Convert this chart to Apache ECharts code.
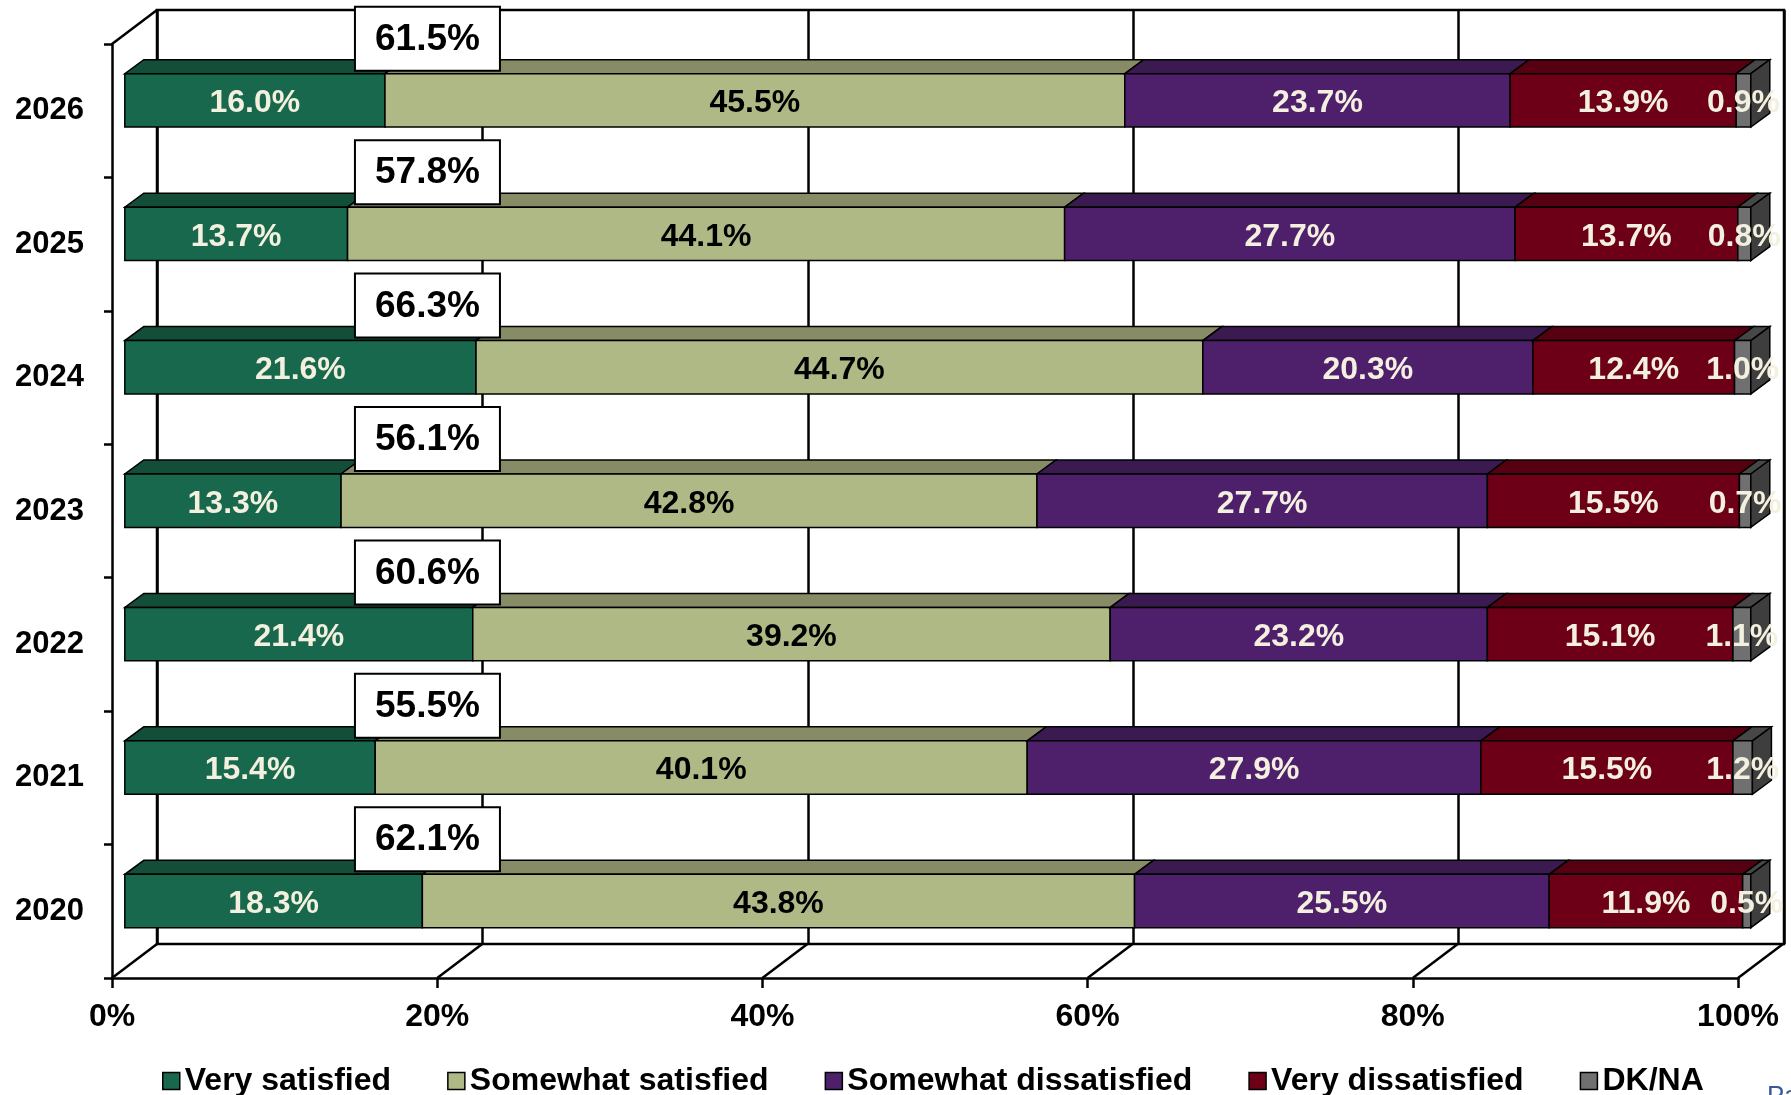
<!DOCTYPE html>
<html><head><meta charset="utf-8">
<script src="https://cdn.jsdelivr.net/npm/echarts@6/dist/echarts.min.js"></script>
<style>html,body{margin:0;padding:0;background:#fff;overflow:hidden}#c{width:1791px;height:1095px}</style>
</head><body><div id="c"></div>
<script>
// ---- data ----
const years = ['2020', '2021', '2022', '2023', '2024', '2025', '2026'];
const verySatisfied        = [18.3, 15.4, 21.4, 13.3, 21.6, 13.7, 16.0];
const somewhatSatisfied    = [43.8, 40.1, 39.2, 42.8, 44.7, 44.1, 45.5];
const somewhatDissatisfied = [25.5, 27.9, 23.2, 27.7, 20.3, 27.7, 23.7];
const veryDissatisfied     = [11.9, 15.5, 15.1, 15.5, 12.4, 13.7, 13.9];
const dkNa                 = [0.5, 1.2, 1.1, 0.7, 1.0, 0.8, 0.9];
const satisfiedTotals      = [62.1, 55.5, 60.6, 56.1, 66.3, 57.8, 61.5];
const xTicks = [0, 20, 40, 60, 80, 100];
const seriesNames = ['Very satisfied', 'Somewhat satisfied', 'Somewhat dissatisfied', 'Very dissatisfied', 'DK/NA'];
const seriesValues = [verySatisfied, somewhatSatisfied, somewhatDissatisfied, veryDissatisfied, dkNa];

// ---- styling ----
const FONT = '"Liberation Sans", Arial, sans-serif';
const LIGHT = '#F3F0DF';
const faceStyles = [
  { front: '#17684C', top: '#134E38', side: '#0F3E2C', text: LIGHT },
  { front: '#AFB986', top: '#878B66', side: '#70744F', text: '#000000' },
  { front: '#4E206B', top: '#3B1A51', side: '#2E1440', text: LIGHT },
  { front: '#6D0016', top: '#570011', side: '#45000D', text: LIGHT },
  { front: '#707070', top: '#474747', side: '#3E3E3E', text: LIGHT }
];
const WALL = [45, -34];        // depth of the 3D box in pixels
const BAR_OFF = [12.8, -10.3]; // bar front face offset from front plane
const BAR_DEPTH = [19, -14];   // bar depth
const BAR_H = 0.40;            // bar front face height as share of band
const TOTAL_AT = 19.4;         // x (value units) of the total label boxes

function barRenderer(k) {
  return function (params, api) {
    const start = api.value(0), end = api.value(1), cat = api.value(2);
    const a = api.coord([start, cat]), b = api.coord([end, cat]);
    const band = api.size([0, 1])[1];
    const h = band * BAR_H;
    const x0 = a[0] + BAR_OFF[0], x1 = b[0] + BAR_OFF[0];
    const yc = a[1] + BAR_OFF[1];
    const yt = yc - h / 2, yb = yc + h / 2;
    const dx = BAR_DEPTH[0], dy = BAR_DEPTH[1];
    const st = faceStyles[k];
    const children = [
      { type: 'polygon', shape: { points: [[x0, yt], [x1, yt], [x1 + dx, yt + dy], [x0 + dx, yt + dy]] },
        style: { fill: st.top, stroke: '#000', lineWidth: 1.5 } },
      { type: 'rect', shape: { x: x0, y: yt, width: x1 - x0, height: h },
        style: { fill: st.front, stroke: '#000', lineWidth: 1.5 } }
    ];
    if (k === seriesValues.length - 1) {
      children.push({ type: 'polygon', shape: { points: [[x1, yt], [x1 + dx, yt + dy], [x1 + dx, yb + dy], [x1, yb]] },
        style: { fill: st.side, stroke: '#000', lineWidth: 1.5 } });
    }
    children.push({ type: 'text', x: (x0 + x1) / 2, y: yc + 3, z2: 10,
      style: { text: api.value(3).toFixed(1) + '%', fill: st.text, font: 'bold 32px ' + FONT,
               align: 'center', verticalAlign: 'middle' } });
    return { type: 'group', children: children };
  };
}

const barSeries = seriesValues.map(function (vals, k) {
  const data = vals.map(function (v, i) {
    let s = 0;
    for (let j = 0; j < k; j++) s += seriesValues[j][i];
    return [s, s + v, i, v];
  });
  return {
    type: 'custom', name: seriesNames[k], xAxisIndex: 0, yAxisIndex: 0,
    itemStyle: { color: faceStyles[k].front },
    encode: { x: [0, 1], y: 2 },
    renderItem: barRenderer(k), data: data, z: 5
  };
});

const floorSeries = {
  type: 'custom', xAxisIndex: 0, yAxisIndex: 0, z: 3, silent: true,
  encode: { x: 0, y: 1 },
  data: xTicks.map(function (v) { return [v, 0]; }),
  renderItem: function (params, api) {
    const v = api.value(0);
    const p = api.coord([v, 0]);
    const band = api.size([0, 1])[1];
    const yb = p[1] + band / 2;
    const ls = { stroke: '#000', lineWidth: 2.5 };
    const children = [{ type: 'line', shape: { x1: p[0], y1: yb, x2: p[0] + WALL[0], y2: yb + WALL[1] }, style: ls }];
    if (v === xTicks[0]) {
      const top = api.coord([v, years.length - 1])[1] - band / 2;
      children.push({ type: 'line', shape: { x1: p[0], y1: top, x2: p[0] + WALL[0], y2: top + WALL[1] }, style: ls });
    }
    return { type: 'group', children: children };
  }
};

const totalSeries = {
  type: 'custom', xAxisIndex: 0, yAxisIndex: 0, z: 20, silent: true,
  encode: { x: 0, y: 1 },
  data: satisfiedTotals.map(function (t, i) { return [TOTAL_AT, i, t]; }),
  renderItem: function (params, api) {
    const p = api.coord([api.value(0), api.value(1)]);
    const w = 145, h = 64, cy = p[1] - 72;
    return { type: 'group', children: [
      { type: 'rect', shape: { x: p[0] - w / 2, y: cy - h / 2, width: w, height: h },
        style: { fill: '#fff', stroke: '#000', lineWidth: 2 } },
      { type: 'text', x: p[0], y: cy + 1, z2: 10,
        style: { text: api.value(2).toFixed(1) + '%', fill: '#000', font: 'bold 37px ' + FONT,
                 align: 'center', verticalAlign: 'middle' } }
    ] };
  }
};

const chart = echarts.init(document.getElementById('c'), null, { renderer: 'canvas' });
chart.setOption({
  backgroundColor: '#fff',
  animation: false,
  textStyle: { fontFamily: FONT },
  grid: [
    { left: 112, top: 44, width: 1626, height: 934 },
    { left: 157, top: 10, width: 1627, height: 934, show: true, borderColor: '#000', borderWidth: 2.5, backgroundColor: 'transparent' }
  ],
  xAxis: [
    { type: 'value', gridIndex: 0, min: 0, max: 100, interval: 20,
      axisLine: { show: true, lineStyle: { color: '#000', width: 2.5 } },
      axisTick: { show: true, length: 10, lineStyle: { color: '#000', width: 2.5 } },
      axisLabel: { formatter: '{value}%', color: '#000', fontSize: 32, fontWeight: 'bold', fontFamily: FONT, margin: 23 },
      splitLine: { show: false } },
    { type: 'value', gridIndex: 1, min: 0, max: 100, interval: 20,
      axisLine: { show: false }, axisTick: { show: false }, axisLabel: { show: false },
      splitLine: { show: true, lineStyle: { color: '#000', width: 2.5 } } }
  ],
  yAxis: [
    { type: 'category', gridIndex: 0, data: years,
      axisLine: { show: true, lineStyle: { color: '#000', width: 2.5 } },
      axisTick: { show: true, length: 8, lineStyle: { color: '#000', width: 2.5 } },
      axisLabel: { color: '#000', fontSize: 31, fontWeight: 'bold', fontFamily: FONT, margin: 28, padding: [10, 0, 0, 0] },
      splitLine: { show: false } },
    { type: 'category', gridIndex: 1, data: years, show: false }
  ],
  legend: {
    data: seriesNames, left: 157, top: 1060, itemWidth: 17, itemHeight: 17, itemGap: 56,
    icon: 'rect', itemStyle: { borderColor: '#000', borderWidth: 1.5 },
    textStyle: { color: '#000', fontSize: 32, fontWeight: 'bold', fontFamily: FONT }
  },
  graphic: [
    { type: 'text', left: 1767, top: 1084, silent: true,
      style: { text: 'Page', fill: '#3A5796', font: '26px ' + FONT } }
  ],
  series: [floorSeries].concat(barSeries, [totalSeries])
});
</script>
</body></html>
